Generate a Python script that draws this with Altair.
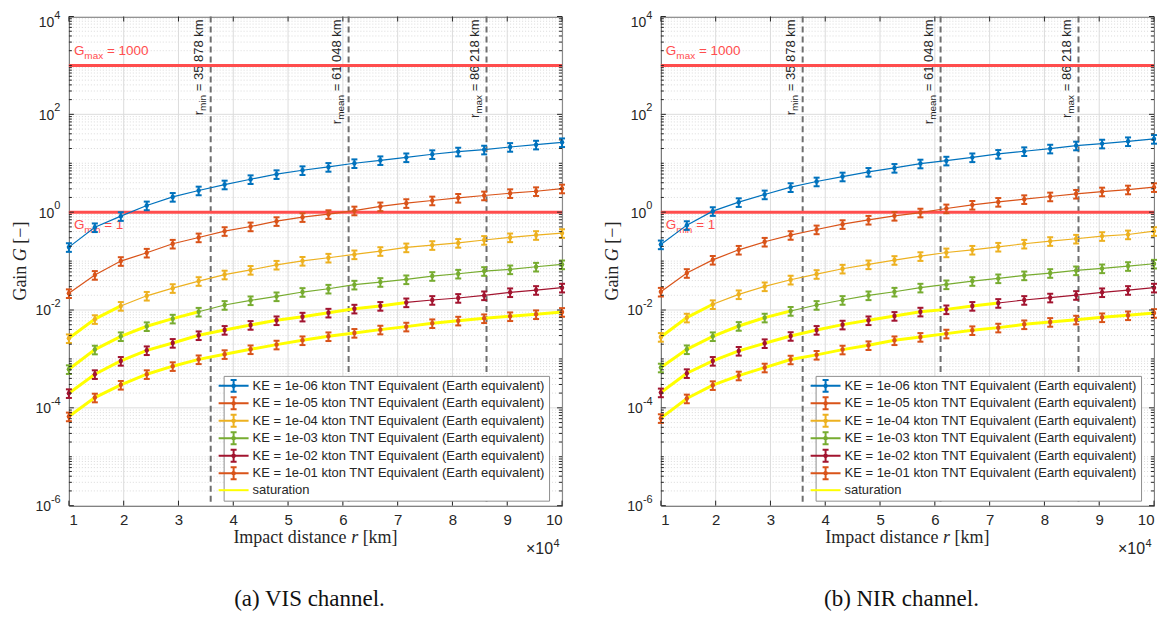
import altair as alt
import pandas as pd

# ---------------- data ----------------
r_km = [10000, 14737, 19474, 24211, 28947, 33684, 38421, 43158, 47895, 52632,
        57368, 62105, 66842, 71579, 76316, 81053, 85789, 90526, 95263, 100000]

series_labels = [
    "KE = 1e-06 kton TNT Equivalent (Earth equivalent)",
    "KE = 1e-05 kton TNT Equivalent (Earth equivalent)",
    "KE = 1e-04 kton TNT Equivalent (Earth equivalent)",
    "KE = 1e-03 kton TNT Equivalent (Earth equivalent)",
    "KE = 1e-02 kton TNT Equivalent (Earth equivalent)",
    "KE = 1e-01 kton TNT Equivalent (Earth equivalent)",
]
series_colors = ["#0072BD", "#D95319", "#EDB120", "#77AC30", "#A2142F", "#D95319"]
saturation_label = "saturation"
saturation_color = "#FFFF00"

# VIS channel gains
vis_ke06 = [0.193, 0.49, 0.83, 1.37, 2.05, 2.77, 3.67, 4.71, 5.97, 7.2,
            8.4, 10.0, 11.5, 13.2, 15.3, 17.3, 19.0, 21.5, 24.0, 26.8]
vis_ke05 = [0.022, 0.052, 0.10, 0.148, 0.226, 0.304, 0.41, 0.51, 0.655, 0.79,
            0.91, 1.08, 1.31, 1.53, 1.73, 1.96, 2.19, 2.44, 2.68, 3.04]
vis_ke04 = [0.00264, 0.0065, 0.0121, 0.0195, 0.028, 0.039, 0.053, 0.066, 0.084, 0.101,
            0.117, 0.137, 0.16, 0.19, 0.212, 0.235, 0.27, 0.305, 0.34, 0.373]
vis_ke03 = [6.16e-4, 1.55e-3, 2.9e-3, 4.65e-3, 6.65e-3, 9.2e-3, 0.01265, 0.01575, 0.019, 0.0233,
            0.0272, 0.0329, 0.0373, 0.0423, 0.0494, 0.0551, 0.0625, 0.0676, 0.0766, 0.0855]
vis_ke02 = [1.99e-4, 4.87e-4, 9.1e-4, 1.5e-3, 2.12e-3, 3.04e-3, 3.91e-3, 4.94e-3, 6.15e-3, 7.3e-3,
            8.8e-3, 0.01064, 0.0121, 0.0143, 0.016, 0.0176, 0.0199, 0.023, 0.0256, 0.0286]
vis_ke01 = [6.65e-5, 1.62e-4, 2.95e-4, 4.87e-4, 7.1e-4, 9.8e-4, 1.25e-3, 1.57e-3, 1.96e-3, 2.4e-3,
            2.9e-3, 3.4e-3, 3.97e-3, 4.57e-3, 5.35e-3, 6.05e-3, 6.76e-3, 7.43e-3, 8.17e-3, 9.1e-3]

# NIR channel gains
nir_ke06 = [0.219, 0.543, 1.05, 1.6, 2.3, 3.24, 4.23, 5.35, 6.65, 8.03,
            9.85, 11.3, 13.2, 15.5, 17.6, 19.9, 23.0, 25.2, 28.1, 31.4]
nir_ke05 = [0.0236, 0.0569, 0.106, 0.170, 0.248, 0.34, 0.443, 0.569, 0.698, 0.84,
            0.98, 1.19, 1.41, 1.62, 1.84, 2.09, 2.37, 2.64, 2.9, 3.24]
nir_ke04 = [0.00281, 0.00698, 0.0131, 0.0209, 0.0304, 0.0416, 0.0543, 0.0698, 0.0855, 0.105,
            0.126, 0.150, 0.170, 0.196, 0.226, 0.256, 0.286, 0.324, 0.35, 0.41]
nir_ke03 = [6.65e-4, 1.57e-3, 2.9e-3, 4.71e-3, 6.98e-3, 9.55e-3, 0.01265, 0.016, 0.0199, 0.0236,
            0.0286, 0.0334, 0.039, 0.0443, 0.0509, 0.0569, 0.0645, 0.0709, 0.079, 0.0883]
nir_ke02 = [2.06e-4, 5.1e-4, 9.1e-4, 1.46e-3, 2.09e-3, 2.94e-3, 3.91e-3, 5.02e-3, 6.15e-3, 7.55e-3,
            9.25e-3, 0.0103, 0.0121, 0.0139, 0.016, 0.0179, 0.0202, 0.023, 0.0256, 0.0286]
nir_ke01 = [6.15e-5, 1.55e-4, 2.9e-4, 4.57e-4, 6.65e-4, 9.7e-4, 1.21e-3, 1.55e-3, 1.9e-3, 2.4e-3,
            2.81e-3, 3.29e-3, 3.85e-3, 4.36e-3, 5.09e-3, 5.69e-3, 6.35e-3, 7.08e-3, 7.78e-3, 8.68e-3]

# number of leading points of each series that lie on the saturation curve
vis_saturated_points = [0, 0, 3, 6, 14, 20]
nir_saturated_points = [0, 0, 3, 6, 14, 20]
relative_error = 0.2

gain_limits = [1000, 1]
gain_limit_names = ["max", "min"]
gain_limit_text = ["= 1000", "= 1"]

r_bounds = [35878, 61048, 86218]
r_bound_names = ["min", "mean", "max"]
r_bound_text = ["= 35 878 km", "= 61 048 km", "= 86 218 km"]

x_tick_values = [10000, 20000, 30000, 40000, 50000, 60000, 70000, 80000, 90000, 100000]
y_label_exponents = [4, 2, 0, -2, -4, -6]
captions = ["(a) VIS channel.", "(b) NIR channel."]

# ---------------- styling ----------------
W, H = 494, 490
SANS = "Liberation Sans"
SERIF = "Liberation Serif"
INK = "#262626"
RED = "#FF4D4D"
DASH = "#6E6E6E"

HELV = {" ": 278, "=": 584, "k": 500, "m": 833, "i": 222, "n": 556, "e": 556,
        "a": 556, "x": 500, "r": 333, "G": 778}
TIMES = {" ": 250, "I": 333, "m": 778, "p": 500, "a": 444, "c": 444, "t": 278,
         "d": 500, "i": 278, "s": 389, "n": 500, "e": 444, "G": 722, "r": 389,
         "[": 333, "]": 333, "k": 500, "\u2212": 564}


def sans_w(s, size):
    return sum(HELV.get(c, 556) for c in s) * size / 1000.0


def serif_w(s, size):
    return sum(TIMES.get(c, 500) for c in s) * size / 1000.0


xs = alt.Scale(domain=[10000, 100000], nice=False, zero=False)
ys = alt.Scale(type="log", domain=[1e-6, 1e4], nice=False)
x_axis = alt.Axis(values=x_tick_values, labelExpr="format(datum.value / 10000, 'd')",
                  ticks=False, domain=False, grid=False, labelFont=SANS, labelFontSize=15,
                  labelColor=INK, labelPadding=7, title=None)


def X(f):
    return alt.X(f"{f}:Q", scale=xs, axis=x_axis)


def Y(f):
    return alt.Y(f"{f}:Q", scale=ys, axis=None)


one = pd.DataFrame({"a": [0]})
minor_vals = [m * 10.0 ** k for k in range(-6, 4) for m in range(2, 10)] + [10.0 ** k for k in (-5, -3, -1, 1, 3)]
major_vals = [10.0 ** k for k in (-6, -4, -2, 0, 2, 4)]
minor_df = pd.DataFrame({"v": minor_vals})
major_df = pd.DataFrame({"v": major_vals})
xgrid_df = pd.DataFrame({"v": x_tick_values})

legend_labels = series_labels + [saturation_label]
legend_colors = series_colors + [saturation_color]
err_path = "M-2.5,0H2.5M0,-1V1M-0.5,-1H0.5M-0.5,1H0.5M-0.3,0L0,-0.3L0.3,0L0,0.3Z"
legend_shapes = [err_path] * 6 + ["M-2.5,0H2.5"]


def panel(gains, nsat, caption):
    rows = []
    for s in range(6):
        for i in range(len(r_km)):
            g = gains[s][i]
            rows.append({"series": s, "col": series_colors[s], "r": r_km[i], "g": g,
                         "lo": g * (1 - relative_error), "hi": g * (1 + relative_error),
                         "sat": i < nsat[s]})
    df = pd.DataFrame(rows)
    sat_df = df[df["sat"]]
    caps = pd.concat([df.assign(cap=df["lo"]), df.assign(cap=df["hi"])])

    L = []
    # grid
    L.append(alt.Chart(minor_df).mark_rule(color="#d2d2d2", strokeWidth=0.8, strokeDash=[1, 2]).encode(y=Y("v")))
    L.append(alt.Chart(major_df).mark_rule(color="#dcdcdc", strokeWidth=1).encode(y=Y("v")))
    L.append(alt.Chart(xgrid_df).mark_rule(color="#dcdcdc", strokeWidth=1).encode(x=X("v")))

    # r labels (rotated)
    for k in range(3):
        d = pd.DataFrame({"r": [r_bounds[k]]})
        main = r_bound_text[k]
        sub = r_bound_names[k]
        wm = sans_w(main, 13)
        ws = sans_w(sub, 10)
        gap = sans_w(" ", 13)
        base = dict(angle=270, align="right", baseline="alphabetic", font=SANS, color=INK)
        L.append(alt.Chart(d).mark_text(text=main, fontSize=13, dx=-3, dy=-8, **base)
                 .encode(x=X("r"), y=alt.value(0)))
        L.append(alt.Chart(d).mark_text(text=sub, fontSize=10, dx=-3 - wm - gap, dy=-5, **base)
                 .encode(x=X("r"), y=alt.value(0)))
        L.append(alt.Chart(d).mark_text(text="r", fontSize=13, dx=-3 - wm - gap - ws, dy=-8, **base)
                 .encode(x=X("r"), y=alt.value(0)))

    # dashed distance lines
    L.append(alt.Chart(pd.DataFrame({"r": r_bounds})).mark_rule(color=DASH, strokeWidth=2, strokeDash=[6, 4])
             .encode(x=X("r")))
    # gain limits
    L.append(alt.Chart(pd.DataFrame({"g": gain_limits})).mark_rule(color=RED, strokeWidth=3).encode(y=Y("g")))
    for k in range(2):
        d = pd.DataFrame({"r": [10000], "g": [gain_limits[k]]})
        dyb = -10 if k == 0 else 17
        wg = sans_w("G", 13.5)
        ws = sans_w(gain_limit_names[k], 10)
        gap = sans_w(" ", 13.5)
        base = dict(align="left", baseline="alphabetic", font=SANS, color=RED)
        L.append(alt.Chart(d).mark_text(text="G", fontSize=13.5, dx=5, dy=dyb, **base).encode(x=X("r"), y=Y("g")))
        L.append(alt.Chart(d).mark_text(text=gain_limit_names[k], fontSize=10, dx=5 + wg, dy=dyb + 4, **base)
                 .encode(x=X("r"), y=Y("g")))
        L.append(alt.Chart(d).mark_text(text=gain_limit_text[k], fontSize=13.5, dx=5 + wg + ws + gap, dy=dyb, **base)
                 .encode(x=X("r"), y=Y("g")))

    # series
    L.append(alt.Chart(df).mark_line(strokeWidth=1.2).encode(
        x=X("r"), y=Y("g"), detail="series:N", stroke=alt.Stroke("col:N", scale=None)))
    L.append(alt.Chart(sat_df).mark_line(strokeWidth=3, color=saturation_color).encode(
        x=X("r"), y=Y("g"), detail="series:N"))
    L.append(alt.Chart(df).mark_rule(strokeWidth=2).encode(
        x=X("r"), y=Y("lo"), y2="hi:Q", stroke=alt.Stroke("col:N", scale=None)))
    L.append(alt.Chart(caps).mark_tick(orient="horizontal", size=6, thickness=2, opacity=1).encode(
        x=X("r"), y=Y("cap"), fill=alt.Fill("col:N", scale=None)))
    L.append(alt.Chart(df).mark_circle(size=20, opacity=1).encode(
        x=X("r"), y=Y("g"), fill=alt.Fill("col:N", scale=None)))

    # inward ticks
    for df_t, ln in ((minor_df, 3), (major_df, 5)):
        L.append(alt.Chart(df_t).mark_rule(color=INK, strokeWidth=1).encode(y=Y("v"), x=alt.value(0), x2=alt.value(ln)))
        L.append(alt.Chart(df_t).mark_rule(color=INK, strokeWidth=1).encode(y=Y("v"), x=alt.value(W - ln), x2=alt.value(W)))
    L.append(alt.Chart(xgrid_df).mark_rule(color=INK, strokeWidth=1).encode(x=X("v"), y=alt.value(H - 5), y2=alt.value(H)))
    L.append(alt.Chart(xgrid_df).mark_rule(color=INK, strokeWidth=1).encode(x=X("v"), y=alt.value(0), y2=alt.value(5)))

    # y tick labels 10^e (the top one is nudged down to stay inside the figure, as in the reference)
    top_exp = max(y_label_exponents)
    for e in y_label_exponents:
        xe = -18 if e < 0 else -14.7
        shift = 5 if e == top_exp else 0
        d = pd.DataFrame({"v": [10.0 ** e], "exp": [str(e)]})
        L.append(alt.Chart(d).mark_text(text="10", align="right", baseline="alphabetic", fontSize=14,
                                        dy=5.5 + shift, font=SANS, color=INK).encode(y=Y("v"), x=alt.value(xe)))
        L.append(alt.Chart(d).mark_text(align="left", baseline="alphabetic", fontSize=11, dy=-3 + shift,
                                        font=SANS, color=INK).encode(y=Y("v"), x=alt.value(xe), text="exp:N"))

    # y title: Gain G [−]
    p1, p2, p3 = "Gain", "G", "[\u2212]"
    sp = serif_w(" ", 18)
    w1, w2, w3 = serif_w(p1, 18), serif_w(p2, 18), serif_w(p3, 18)
    tot = w1 + sp + w2 + sp + w3
    yb = H / 2 + tot / 2
    tb = dict(angle=270, align="left", baseline="alphabetic", font=SERIF, fontSize=18, color=INK)
    L.append(alt.Chart(one).mark_text(text=p1, **tb).encode(x=alt.value(-43), y=alt.value(yb)))
    L.append(alt.Chart(one).mark_text(text=p2, fontStyle="italic", dx=w1 + sp, **tb).encode(x=alt.value(-43), y=alt.value(yb)))
    L.append(alt.Chart(one).mark_text(text=p3, dx=w1 + sp + w2 + sp, **tb).encode(x=alt.value(-43), y=alt.value(yb)))

    # x title: Impact distance r [km]
    q1, q2, q3 = "Impact distance", "r", "[km]"
    v1, v2, v3 = serif_w(q1, 18), serif_w(q2, 18), serif_w(q3, 18)
    tot = v1 + sp + v2 + sp + v3
    x0 = W / 2 - tot / 2
    xb = dict(align="left", baseline="alphabetic", font=SERIF, fontSize=18, color=INK)
    L.append(alt.Chart(one).mark_text(text=q1, **xb).encode(x=alt.value(x0), y=alt.value(H + 37)))
    L.append(alt.Chart(one).mark_text(text=q2, fontStyle="italic", **xb).encode(x=alt.value(x0 + v1 + sp), y=alt.value(H + 37)))
    L.append(alt.Chart(one).mark_text(text=q3, **xb).encode(x=alt.value(x0 + v1 + sp + v2 + sp), y=alt.value(H + 37)))

    # x multiplier ×10^4
    L.append(alt.Chart(one).mark_text(text="\u00d710", align="right", baseline="alphabetic", font=SANS,
                                      fontSize=16, color=INK).encode(x=alt.value(485), y=alt.value(H + 48)))
    L.append(alt.Chart(one).mark_text(text="4", align="left", baseline="alphabetic", font=SANS,
                                      fontSize=11, color=INK).encode(x=alt.value(485.5), y=alt.value(H + 41)))

    # caption
    L.append(alt.Chart(one).mark_text(text=caption, align="center", baseline="alphabetic", font=SERIF,
                                      fontSize=23, color="#111111").encode(x=alt.value(W / 2 - 6), y=alt.value(H + 101)))

    # legend (hidden points, clipped)
    leg = alt.Legend(orient="none", legendX=155, legendY=360, title=None, fillColor="white",
                     strokeColor="#8f8f8f", padding=3, symbolSize=144, symbolStrokeWidth=2,
                     labelOffset=12, labelFont=SANS, labelFontSize=13, labelColor=INK,
                     labelLimit=1000, rowPadding=-2.5, cornerRadius=0)
    leg_df = pd.DataFrame({"label": legend_labels, "r": [5000] * 7, "g": [1.0] * 7})
    L.append(alt.Chart(leg_df).mark_point(filled=False, clip=True, size=144, strokeWidth=2, opacity=1).encode(
        x=X("r"), y=Y("g"),
        color=alt.Color("label:N", scale=alt.Scale(domain=legend_labels, range=legend_colors), legend=leg),
        shape=alt.Shape("label:N", scale=alt.Scale(domain=legend_labels, range=legend_shapes), legend=leg)))

    return alt.layer(*L).properties(width=W, height=H)


vis = panel([vis_ke06, vis_ke05, vis_ke04, vis_ke03, vis_ke02, vis_ke01], vis_saturated_points, captions[0])
nir = panel([nir_ke06, nir_ke05, nir_ke04, nir_ke03, nir_ke02, nir_ke01], nir_saturated_points, captions[1])

chart = (
    alt.hconcat(vis, nir, spacing=34)
    .resolve_scale(color="independent", shape="independent")
    .properties(padding={"left": 3, "top": 0, "right": 0, "bottom": 0}, background="white")
    .configure_view(stroke=INK, strokeWidth=1)
)

chart.save("out.html", embed_options={"renderer": "svg", "actions": False})
